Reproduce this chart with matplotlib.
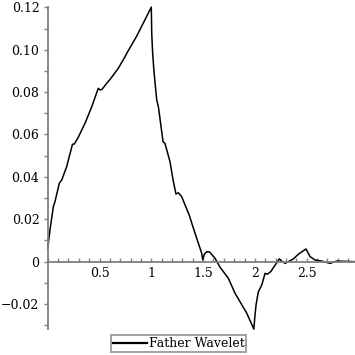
import matplotlib
matplotlib.use("Agg")
import matplotlib.pyplot as plt
from matplotlib.ticker import MultipleLocator, FixedLocator, FuncFormatter

# father wavelet samples
x_vals = [0.0, 0.022, 0.054, 0.070, 0.112, 0.135, 0.183, 0.239, 0.257, 0.295,
          0.360, 0.425, 0.488, 0.505, 0.524, 0.570, 0.602, 0.681, 0.746, 0.763,
          0.860, 1.0,
          1.004, 1.013, 1.026, 1.052, 1.068, 1.077, 1.113, 1.132, 1.180, 1.210,
          1.238, 1.261, 1.293, 1.367, 1.422, 1.486, 1.496, 1.513, 1.535, 1.562,
          1.615, 1.663, 1.743, 1.808, 1.921, 1.990,
          1.998, 2.011, 2.033, 2.066, 2.098, 2.120, 2.153, 2.184, 2.236, 2.259,
          2.291, 2.322, 2.371, 2.419, 2.493, 2.532, 2.580, 2.645, 2.725, 2.790,
          2.966]
y_vals = [0.0063, 0.0150, 0.0259, 0.0283, 0.0370, 0.0385, 0.0448, 0.0554, 0.0555, 0.0587,
          0.0653, 0.0731, 0.0818, 0.0810, 0.0813, 0.0842, 0.0860, 0.0912, 0.0967, 0.0983,
          0.1065, 0.1201,
          0.1077, 0.0983, 0.0896, 0.0763, 0.0731, 0.0700, 0.0566, 0.0558, 0.0472, 0.0385,
          0.0319, 0.0325, 0.0307, 0.0218, 0.0134, 0.0040, 0.0009, 0.0036, 0.0047, 0.0046,
          0.0016, -0.0026, -0.0078, -0.0149, -0.0243, -0.0318,
          -0.0267, -0.0204, -0.0142, -0.0110, -0.0055, -0.0059, -0.0047, -0.0024, 0.0013, 0.0003,
          -0.0008, 0.0, 0.0013, 0.0035, 0.0060, 0.0024, 0.0008, 0.0003, -0.0008, 0.0003,
          0.0]

x_major = [0.5, 1.0, 1.5, 2.0, 2.5]
x_labels = ["0.5", "1", "1.5", "2", "2.5"]
y_major = [-0.02, 0.0, 0.02, 0.04, 0.06, 0.08, 0.10, 0.12]
legend_label = "Father Wavelet"

plt.rcParams['font.family'] = ['DejaVu Serif']
axis_grey = "#808080"

fig = plt.figure(figsize=(3.55, 3.55), dpi=100)
ax = fig.add_axes([0.1344, 0.0724, 0.8656, 0.907])

line, = ax.plot(x_vals, y_vals, color="black", lw=1.1, clip_on=False, label=legend_label)

ax.set_xlim(0, 2.966)
ax.set_ylim(-0.0319, 0.12)

for s in ["top", "right"]:
    ax.spines[s].set_visible(False)
ax.spines["left"].set_position(("data", 0))
ax.spines["bottom"].set_position(("data", 0))
for s in ["left", "bottom"]:
    ax.spines[s].set_color(axis_grey)
    ax.spines[s].set_linewidth(1.3)

ax.xaxis.set_major_locator(FixedLocator(x_major))
ax.xaxis.set_major_formatter(FuncFormatter(lambda v, p: x_labels[p] if p is not None and p < len(x_labels) else ""))
ax.set_xticks(x_major)
ax.set_xticklabels(x_labels)
ax.xaxis.set_minor_locator(MultipleLocator(0.1))

ax.set_yticks(y_major)
ax.set_yticklabels(["0" if v == 0 else "\u2212%.2f" % abs(v) if v < 0 else "%.2f" % v for v in y_major])
ax.yaxis.set_minor_locator(MultipleLocator(0.01))

ax.tick_params(axis="x", which="both", direction="in", length=3, width=1, color=axis_grey,
               labelsize=9, pad=4)
ax.tick_params(axis="y", which="both", direction="out", length=3, width=1, color=axis_grey,
               labelsize=9, pad=3)

fig.legend(handles=[line], loc="upper center", bbox_to_anchor=(0.503, 0.0563),
           fontsize=9, frameon=True, fancybox=False, edgecolor=axis_grey,
           handlelength=2.7, handletextpad=0.15, borderpad=0.15, borderaxespad=0)
leg = fig.legends[0]
leg.get_frame().set_linewidth(1.3)
leg.get_lines()[0].set_linewidth(1.6)

fig.savefig("out.png", dpi=100)
